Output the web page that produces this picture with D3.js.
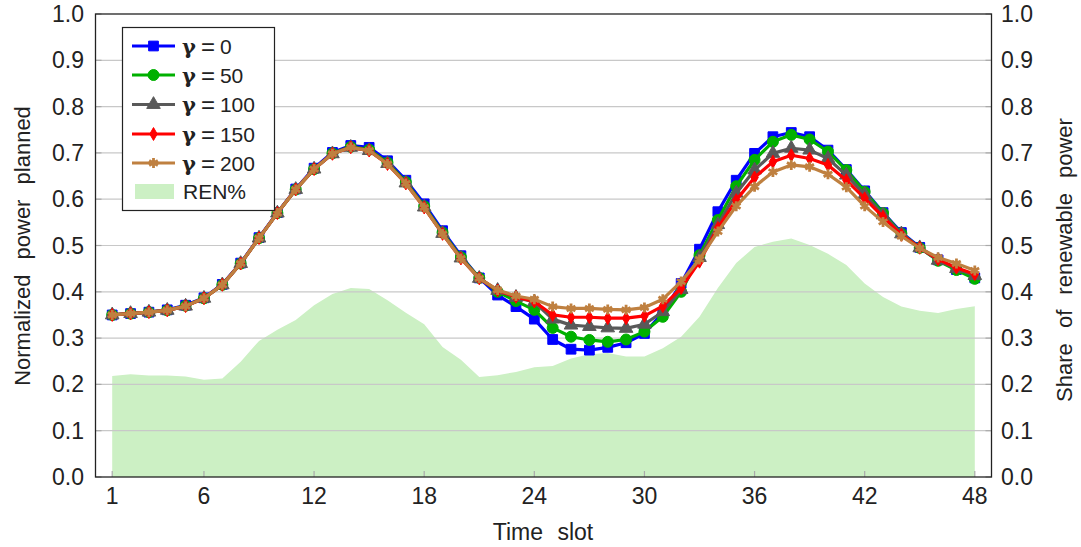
<!DOCTYPE html>
<html>
<head>
<meta charset="utf-8">
<script src="https://cdn.jsdelivr.net/npm/d3@7"></script>
<style>
  body { margin: 0; background: #fff; }
  text { font-family: "Liberation Sans", "DejaVu Sans", sans-serif; fill: #222; }
</style>
</head>
<body>
<div id="vis"></div>
<script>
const slots = d3.range(1, 49);
const xTicks = [1, 6, 12, 18, 24, 30, 36, 42, 48];
const yTicks = d3.range(0, 11).map(d => d / 10);

const gamma0 = [0.350, 0.353, 0.356, 0.361, 0.371, 0.387, 0.416, 0.462, 0.517, 0.571, 0.622, 0.667, 0.701, 0.716, 0.712, 0.683, 0.641, 0.590, 0.532, 0.478, 0.430, 0.393,
  0.368, 0.341, 0.297, 0.276, 0.274, 0.280, 0.290, 0.310, 0.355, 0.418, 0.492, 0.573, 0.641, 0.699, 0.735, 0.744, 0.735, 0.706, 0.664, 0.618, 0.571, 0.528, 0.496, 0.469, 0.448, 0.430];
const gamma50 = [0.350, 0.353, 0.356, 0.360, 0.370, 0.386, 0.415, 0.461, 0.516, 0.570, 0.621, 0.665, 0.699, 0.713, 0.707, 0.679, 0.637, 0.585, 0.528, 0.475, 0.430, 0.400,
  0.380, 0.361, 0.322, 0.303, 0.296, 0.292, 0.297, 0.314, 0.346, 0.400, 0.479, 0.555, 0.628, 0.685, 0.724, 0.739, 0.729, 0.703, 0.663, 0.616, 0.570, 0.526, 0.495, 0.467, 0.447, 0.428];
const gamma100 = [0.350, 0.353, 0.356, 0.360, 0.369, 0.386, 0.415, 0.461, 0.516, 0.570, 0.621, 0.665, 0.698, 0.712, 0.705, 0.677, 0.635, 0.583, 0.526, 0.473, 0.429, 0.403,
  0.388, 0.378, 0.341, 0.328, 0.325, 0.322, 0.321, 0.330, 0.357, 0.405, 0.474, 0.545, 0.613, 0.663, 0.699, 0.710, 0.706, 0.688, 0.652, 0.610, 0.566, 0.525, 0.495, 0.468, 0.450, 0.435];
const gamma150 = [0.350, 0.353, 0.356, 0.360, 0.369, 0.386, 0.415, 0.461, 0.516, 0.570, 0.621, 0.665, 0.698, 0.712, 0.705, 0.676, 0.634, 0.582, 0.525, 0.472, 0.429, 0.403,
  0.389, 0.379, 0.350, 0.345, 0.345, 0.343, 0.343, 0.348, 0.369, 0.408, 0.465, 0.538, 0.598, 0.647, 0.681, 0.695, 0.688, 0.674, 0.641, 0.602, 0.562, 0.523, 0.495, 0.470, 0.452, 0.438];
const gamma200 = [0.350, 0.353, 0.356, 0.360, 0.369, 0.386, 0.415, 0.461, 0.516, 0.570, 0.621, 0.665, 0.698, 0.712, 0.705, 0.676, 0.634, 0.582, 0.525, 0.472, 0.429, 0.404,
  0.391, 0.384, 0.368, 0.364, 0.364, 0.362, 0.361, 0.366, 0.384, 0.422, 0.470, 0.530, 0.585, 0.627, 0.659, 0.674, 0.670, 0.654, 0.626, 0.585, 0.551, 0.520, 0.494, 0.474, 0.461, 0.446];
const renShare = [0.218, 0.222, 0.219, 0.219, 0.217, 0.210, 0.213, 0.249, 0.294, 0.318, 0.339, 0.371, 0.395, 0.408, 0.406, 0.382, 0.355, 0.330, 0.281, 0.253, 0.216, 0.220,
  0.227, 0.237, 0.240, 0.256, 0.265, 0.268, 0.260, 0.260, 0.278, 0.303, 0.346, 0.408, 0.462, 0.497, 0.508, 0.515, 0.501, 0.482, 0.458, 0.418, 0.389, 0.368, 0.359, 0.354, 0.363, 0.369];

const gammaLabels = ["0", "50", "100", "150", "200"];
const seriesColors = ["#0000ff", "#00b000", "#595959", "#ff0000", "#bf8040"];
const seriesSymbols = [d3.symbolSquare, d3.symbolCircle, d3.symbolTriangle, d3.symbolDiamond, d3.symbolAsterisk];
const symbolSizes = [95, 95, 80, 48, 70];
const seriesValues = [gamma0, gamma50, gamma100, gamma150, gamma200];

const W = 1081, H = 547;
const svg = d3.select("#vis").append("svg").attr("width", W).attr("height", H);

const x = d3.scaleLinear().domain([0.09, 48.91]).range([95.5, 991.5]);
const y = d3.scaleLinear().domain([0, 1]).range([477, 14]);
const y2 = d3.scaleLinear().domain([0, 1]).range([477, 14]);

// renewable share area (right axis)
svg.append("path")
  .datum(renShare)
  .attr("fill", "#ccf0c4")
  .attr("d", d3.area().x((d, i) => x(slots[i])).y0(y2(0)).y1(d => y2(d)));

// grid
svg.append("g").selectAll("line").data(yTicks.slice(1, -1)).join("line")
  .attr("x1", x.range()[0]).attr("x2", x.range()[1])
  .attr("y1", d => y(d)).attr("y2", d => y(d))
  .attr("stroke", "#c8c8c8").attr("stroke-width", 1.2);

// inner ticks
const tickG = svg.append("g").attr("stroke", "#aaa").attr("stroke-width", 1.2);
yTicks.forEach(t => {
  tickG.append("line").attr("x1", x.range()[0]).attr("x2", x.range()[0] + 6).attr("y1", y(t)).attr("y2", y(t));
  tickG.append("line").attr("x1", x.range()[1] - 6).attr("x2", x.range()[1]).attr("y1", y2(t)).attr("y2", y2(t));
});
xTicks.forEach(t => {
  tickG.append("line").attr("x1", x(t)).attr("x2", x(t)).attr("y1", y(0)).attr("y2", y(0) - 6);
});

// series lines
seriesValues.forEach((vals, k) => {
  const g = svg.append("g");
  g.append("path")
    .datum(vals)
    .attr("fill", "none")
    .attr("stroke", seriesColors[k])
    .attr("stroke-width", 3.2)
    .attr("stroke-linejoin", "round")
    .attr("d", d3.line().x((d, i) => x(slots[i])).y(d => y(d)));
  const sym = d3.symbol().type(seriesSymbols[k]).size(symbolSizes[k]);
  g.selectAll("path.m").data(vals).join("path")
    .attr("class", "m")
    .attr("transform", (d, i) => `translate(${x(slots[i])},${y(d)})`)
    .attr("d", sym)
    .attr("fill", seriesColors[k])
    .attr("stroke", seriesColors[k])
    .attr("stroke-width", k === 4 ? 2.8 : 1);
});

// frame
svg.append("rect")
  .attr("x", x.range()[0]).attr("y", y(1))
  .attr("width", x.range()[1] - x.range()[0]).attr("height", y(0) - y(1))
  .attr("fill", "none").attr("stroke", "#222").attr("stroke-width", 1.3);

// tick labels
svg.append("g").selectAll("text").data(yTicks).join("text")
  .attr("x", 84).attr("y", d => y(d) + 8)
  .attr("text-anchor", "end").attr("font-size", 23)
  .text(d => d.toFixed(1));
svg.append("g").selectAll("text").data(yTicks).join("text")
  .attr("x", 1001).attr("y", d => y2(d) + 8)
  .attr("text-anchor", "start").attr("font-size", 23)
  .text(d => d.toFixed(1));
svg.append("g").selectAll("text").data(xTicks).join("text")
  .attr("x", d => x(d)).attr("y", 504)
  .attr("text-anchor", "middle").attr("font-size", 23)
  .text(d => d);

// axis titles
svg.append("text")
  .attr("x", 543).attr("y", 540)
  .attr("text-anchor", "middle").attr("font-size", 23)
  .attr("word-spacing", 8)
  .text("Time slot");
svg.append("text")
  .attr("transform", "translate(30,246) rotate(-90)")
  .attr("text-anchor", "middle").attr("font-size", 22)
  .attr("word-spacing", 9)
  .text("Normalized power planned");
svg.append("text")
  .attr("transform", "translate(1072,260) rotate(-90)")
  .attr("text-anchor", "middle").attr("font-size", 22)
  .attr("word-spacing", 9)
  .text("Share of renewable power");

// legend
const lg = svg.append("g");
lg.append("rect")
  .attr("x", 122.5).attr("y", 27.5).attr("width", 152).attr("height", 183)
  .attr("fill", "#fff").attr("stroke", "#222").attr("stroke-width", 1.2);
const rowY = [46, 75, 104.5, 134, 163];
gammaLabels.forEach((lab, k) => {
  const cy = rowY[k];
  lg.append("line").attr("x1", 132).attr("x2", 175).attr("y1", cy).attr("y2", cy)
    .attr("stroke", seriesColors[k]).attr("stroke-width", 3.2);
  lg.append("path")
    .attr("transform", `translate(153.5,${cy})`)
    .attr("d", d3.symbol().type(seriesSymbols[k]).size(symbolSizes[k])())
    .attr("fill", seriesColors[k]).attr("stroke", seriesColors[k])
    .attr("stroke-width", k === 4 ? 2.8 : 1);
  const t = lg.append("text").attr("x", 182).attr("y", cy + 7.5).attr("font-size", 21);
  t.append("tspan").attr("font-family", "DejaVu Serif").attr("font-weight", "bold").text("γ");
  t.append("tspan").attr("dx", 5).attr("font-size", 24).attr("dy", 1).text("=");
  t.append("tspan").attr("dx", 5).attr("dy", -1).text(lab);
});
lg.append("rect").attr("x", 135).attr("y", 184).attr("width", 39).attr("height", 15).attr("fill", "#ccf0c4");
lg.append("text").attr("x", 183).attr("y", 199).attr("font-size", 21).text("REN%");
</script>
</body>
</html>
